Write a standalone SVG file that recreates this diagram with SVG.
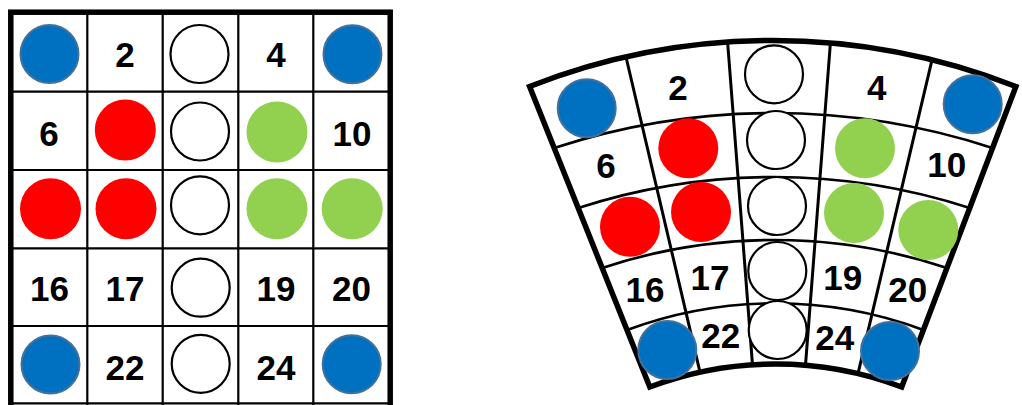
<svg xmlns="http://www.w3.org/2000/svg" width="1022" height="405" viewBox="0 0 1022 405">
<style>
.bg{fill:#ffffff}
.thin{fill:none;stroke:#000;stroke-width:2.2}
.thick{fill:none;stroke:#000;stroke-width:5.5;stroke-linejoin:miter}
.rad{fill:none;stroke:#000;stroke-width:3}
.arc{fill:none;stroke:#000;stroke-width:2.6}
.blue{fill:#0070C0;stroke:#41719C;stroke-width:2}
.red{fill:#FF0000}
.green{fill:#92D050}
.white{fill:#ffffff;stroke:#000;stroke-width:2.2}
.num{font-family:"Liberation Sans",Arial,sans-serif;font-weight:bold;font-size:35px;fill:#000;text-anchor:middle}
</style>
<rect class="bg" x="0" y="0" width="1022" height="405"/>
<g id="left-grid">
  <g id="left-lines">
    <line class="thin" x1="87.3" y1="12" x2="87.3" y2="405"/>
    <line class="thin" x1="162.7" y1="12" x2="162.7" y2="405"/>
    <line class="thin" x1="238.3" y1="12" x2="238.3" y2="405"/>
    <line class="thin" x1="313.3" y1="12" x2="313.3" y2="405"/>
    <line class="thin" x1="10" y1="91.7" x2="390" y2="91.7"/>
    <line class="thin" x1="10" y1="170" x2="390" y2="170"/>
    <line class="thin" x1="10" y1="248.3" x2="390" y2="248.3"/>
    <line class="thin" x1="10" y1="326" x2="390" y2="326"/>
    <line class="thin" x1="10" y1="403.3" x2="390" y2="403.3"/>
    <rect class="thick" x="10.8" y="12.2" width="379.4" height="405"/>
  </g>
  <g id="left-cells">
    <circle class="blue" cx="49.5" cy="54" r="29"/>
    <text class="num" x="125" y="66.7">2</text>
    <circle class="white" cx="199.5" cy="54" r="29"/>
    <text class="num" x="276" y="66.7">4</text>
    <circle class="blue" cx="352.5" cy="54.3" r="29"/>
    <text class="num" x="49" y="145.5">6</text>
    <circle class="red" cx="125.3" cy="130" r="30.5"/>
    <circle class="white" cx="200" cy="131.5" r="29"/>
    <circle class="green" cx="277" cy="132" r="30.5"/>
    <text class="num" x="352" y="145.5">10</text>
    <circle class="red" cx="50.5" cy="208.8" r="30.5"/>
    <circle class="red" cx="126" cy="208.8" r="30.5"/>
    <circle class="white" cx="200" cy="205.3" r="29"/>
    <circle class="green" cx="277" cy="208.7" r="30.5"/>
    <circle class="green" cx="352.2" cy="208.7" r="30.5"/>
    <text class="num" x="49.5" y="301">16</text>
    <text class="num" x="125" y="301">17</text>
    <circle class="white" cx="200.7" cy="287.7" r="29"/>
    <text class="num" x="276" y="301">19</text>
    <text class="num" x="351.5" y="301">20</text>
    <circle class="blue" cx="50.5" cy="364.5" r="29"/>
    <text class="num" x="125" y="380">22</text>
    <circle class="white" cx="200.7" cy="363.8" r="29"/>
    <text class="num" x="276" y="380">24</text>
    <circle class="blue" cx="351.7" cy="364.3" r="29"/>
  </g>
</g>
<g id="fan">
  <g id="fan-lines">
    <path class="arc" d="M 554.2 148 A 704 704 0 0 1 992.5 148"/>
    <path class="arc" d="M 578.2 208 A 633.9 633.9 0 0 1 969.7 208"/>
    <path class="arc" d="M 602.2 268 A 544.8 544.8 0 0 1 946.9 268"/>
    <path class="arc" d="M 627 330 A 424.6 424.6 0 0 1 923.4 330"/>
    <line class="rad" x1="626" y1="57" x2="700" y2="372.1"/>
    <line class="rad" x1="727.6" y1="42" x2="752.5" y2="364.8"/>
    <line class="rad" x1="830.4" y1="43" x2="805.5" y2="365.2"/>
    <line class="rad" x1="932" y1="59.8" x2="858" y2="373.6"/>
    <path class="thick" d="M 529.6 86.5 A 665.4 665.4 0 0 1 1015.9 86.5 L 901.7 387 A 356.6 356.6 0 0 0 649.8 387 Z"/>
  </g>
  <g id="fan-cells">
    <circle class="blue" cx="586.7" cy="108.3" r="29"/>
    <text class="num" x="678" y="100">2</text>
    <circle class="white" cx="774" cy="74.3" r="29"/>
    <text class="num" x="876.7" y="100">4</text>
    <circle class="blue" cx="972.7" cy="104.3" r="29"/>
    <text class="num" x="606" y="178.3">6</text>
    <circle class="red" cx="688.3" cy="148.3" r="30"/>
    <circle class="white" cx="776" cy="140" r="29"/>
    <circle class="green" cx="865" cy="148.3" r="30"/>
    <text class="num" x="946.7" y="176.7">10</text>
    <circle class="red" cx="630" cy="226.7" r="30"/>
    <circle class="red" cx="701" cy="212" r="30"/>
    <circle class="white" cx="777" cy="206" r="29"/>
    <circle class="green" cx="854" cy="213" r="30"/>
    <circle class="green" cx="928.3" cy="230" r="30"/>
    <text class="num" x="645" y="301.7">16</text>
    <text class="num" x="710" y="290">17</text>
    <circle class="white" cx="777.3" cy="271" r="29"/>
    <text class="num" x="842.7" y="290">19</text>
    <text class="num" x="907.7" y="301.7">20</text>
    <circle class="blue" cx="667.3" cy="350" r="29"/>
    <text class="num" x="720.8" y="348.3">22</text>
    <circle class="white" cx="777.7" cy="330" r="29"/>
    <text class="num" x="834.7" y="350">24</text>
    <circle class="blue" cx="890" cy="351" r="29"/>
  </g>
</g>
</svg>
